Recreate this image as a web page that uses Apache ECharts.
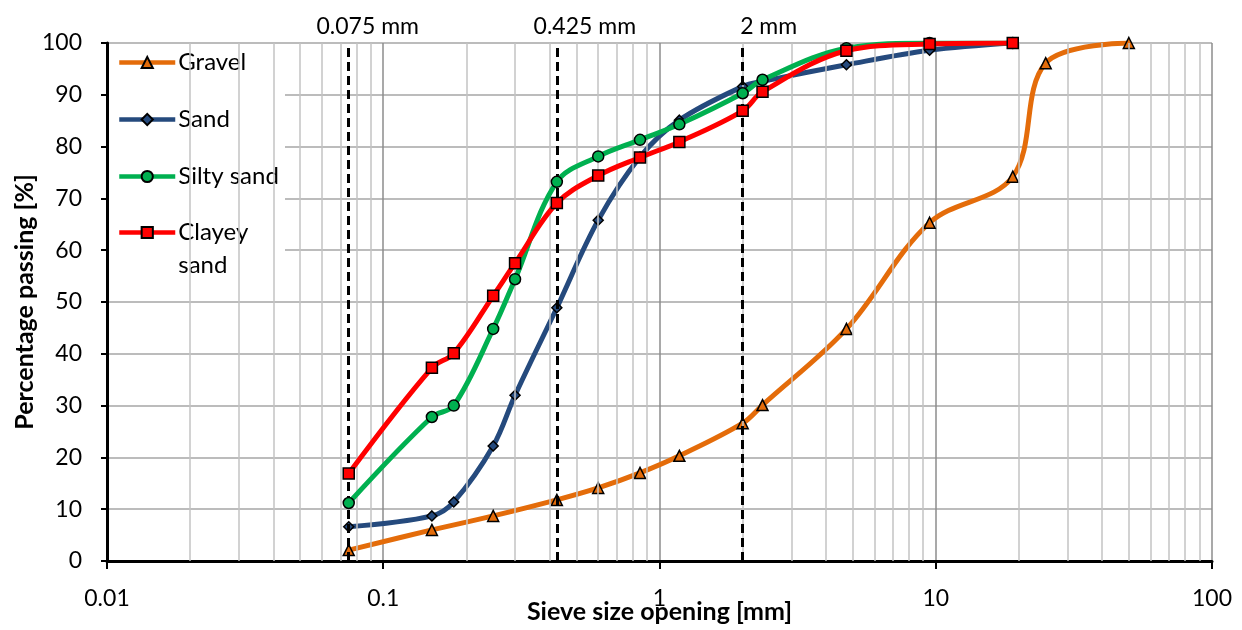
<!DOCTYPE html>
<html>
<head>
<meta charset="utf-8">
<script src="https://cdn.jsdelivr.net/npm/echarts@6/dist/echarts.min.js"></script>
<style>
html, body { margin: 0; padding: 0; background: #fff; }
#chart { width: 1242px; height: 630px; }
</style>
</head>
<body>
<div id="chart"></div>
<script>
// Sieve openings [mm] and percentage passing for each soil
const gravelSizes = [0.075, 0.15, 0.25, 0.425, 0.6, 0.85, 1.18, 2, 2.36, 4.75, 9.5, 19, 25, 50];
const gravelPassing = [2.1, 6.0, 8.7, 11.8, 14.1, 17.0, 20.3, 26.6, 30.1, 44.8, 65.3, 74.2, 96.1, 100];

const soilSizes = [0.075, 0.15, 0.18, 0.25, 0.3, 0.425, 0.6, 0.85, 1.18, 2, 2.36, 4.75, 9.5, 19];
const sandPassing = [6.6, 8.7, 11.4, 22.2, 32.0, 48.9, 65.8, 78.0, 85.1, 91.6, 92.6, 95.8, 98.6, 100];
const siltySandPassing = [11.2, 27.8, 30.0, 44.8, 54.4, 73.2, 78.1, 81.3, 84.3, 90.3, 92.9, 99.0, 100, 100];
const clayeySandPassing = [16.9, 37.3, 40.1, 51.2, 57.5, 69.1, 74.4, 77.9, 80.9, 86.9, 90.6, 98.5, 99.8, 100];

// Reference sieve limits drawn as dashed verticals
const limitSizes = [0.075, 0.425, 2];
const limitLabels = ['0.075 mm', '0.425 mm', '2 mm'];
const limitLabelShift = [19, 28, 26];

const seriesNames = ['Gravel', 'Sand', 'Silty sand', 'Clayey sand'];
const seriesColors = ['#E46C0A', '#254A7D', '#00B050', '#FF0000'];
const seriesSymbols = ['triangle', 'diamond', 'circle', 'rect'];

// Minor log grid lines (2..9 within each decade)
const minorGrid = [];
for (let d = 0.01; d < 100; d *= 10) {
  for (let k = 2; k <= 9; k++) minorGrid.push(+(d * k).toPrecision(3));
}

const FONT = 'Lato, "Open Sans", sans-serif';

function pairs(xs, ys) { return xs.map((x, i) => [x, ys[i]]); }

function soilSeries(idx, xs, ys) {
  return {
    name: seriesNames[idx],
    type: 'line',
    data: pairs(xs, ys),
    smooth: 0.35,
    symbol: seriesSymbols[idx],
    symbolSize: idx === 1 ? 10 : 11,
    showAllSymbol: true,
    lineStyle: { color: seriesColors[idx], width: 5 },
    itemStyle: { color: seriesColors[idx], borderColor: '#000', borderWidth: 1.5 },
    emphasis: { disabled: true },
    z: 3 + idx
  };
}

const legendText = { fontFamily: FONT, fontSize: 24, color: '#000', lineHeight: 33, padding: [0, 0, 0, -2] };

const chart = echarts.init(document.getElementById('chart'));
chart.setOption({
  animation: false,
  backgroundColor: '#fff',
  textStyle: { fontFamily: FONT },
  grid: { left: 107, right: 30, top: 43, bottom: 69, containLabel: false, outerBoundsMode: 'none' },
  xAxis: {
    type: 'log',
    logBase: 10,
    min: 0.01,
    max: 100,
    name: 'Sieve size opening [mm]',
    nameLocation: 'middle',
    nameGap: 38,
    nameMoveOverlap: false,
    nameTextStyle: { fontFamily: FONT, fontSize: 25, fontWeight: 'bold', color: '#000' },
    axisLine: { onZero: false, lineStyle: { color: '#000', width: 3 } },
    axisTick: { show: true, length: 8, lineStyle: { color: '#000', width: 2 } },
    axisLabel: {
      margin: 26, fontFamily: FONT, fontSize: 23, color: '#000',
      formatter: v => String(+v.toPrecision(6))
    },
    splitLine: { show: true, lineStyle: { color: '#8c8c8c', width: 1.5 } }
  },
  yAxis: {
    type: 'value',
    min: 0,
    max: 100,
    interval: 10,
    name: 'Percentage passing [%]',
    nameLocation: 'middle',
    nameGap: 70,
    nameMoveOverlap: false,
    nameTextStyle: { fontFamily: FONT, fontSize: 25, fontWeight: 'bold', color: '#000' },
    axisLine: { show: true, lineStyle: { color: '#000', width: 3 } },
    axisTick: { show: true, length: 6, lineStyle: { color: '#000', width: 2 } },
    axisLabel: { margin: 25, fontFamily: FONT, fontSize: 23, color: '#000' },
    splitLine: { show: true, lineStyle: { color: '#a6a6a6', width: 1.5 } }
  },
  legend: [
    {
      data: ['Gravel', 'Sand', 'Silty sand'],
      orient: 'vertical',
      left: 117,
      top: 46,
      padding: 0,
      itemGap: 24,
      itemWidth: 56,
      itemHeight: 14,
      selectedMode: false,
      lineStyle: { width: 4.5 },
      textStyle: legendText
    },
    {
      data: ['Clayey sand'],
      orient: 'vertical',
      left: 117,
      top: 183,
      padding: 0,
      itemWidth: 56,
      itemHeight: 14,
      selectedMode: false,
      lineStyle: { width: 4.5 },
      // blank first line keeps the marker level with "Clayey"
      formatter: () => ' \nClayey\nsand',
      textStyle: legendText
    }
  ],
  graphic: [
    {
      type: 'rect',
      z: 3,
      shape: { x: 109, y: 46, width: 176, height: 232 },
      style: { fill: '#fff' },
      silent: true
    }
  ],
  series: [
    {
      name: 'minor-grid',
      type: 'line',
      data: [],
      silent: true,
      z: 1,
      markLine: {
        silent: true,
        symbol: 'none',
        precision: 6,
        animation: false,
        label: { show: false },
        lineStyle: { color: '#c3c3c3', width: 1.5, type: 'solid' },
        data: minorGrid.map(v => ({ xAxis: v }))
      }
    },
    {
      name: 'limits',
      type: 'line',
      data: [],
      silent: true,
      z: 2,
      markLine: {
        silent: true,
        symbol: 'none',
        precision: 6,
        animation: false,
        lineStyle: { color: '#000', width: 3, type: [9, 5] },
        label: {
          show: true, position: 'end', distance: 5,
          fontFamily: FONT, fontSize: 23, color: '#000'
        },
        data: limitSizes.map((v, i) => ({
          xAxis: v,
          label: { formatter: limitLabels[i], offset: [limitLabelShift[i], 0] }
        }))
      }
    },
    soilSeries(0, gravelSizes, gravelPassing),
    soilSeries(1, soilSizes, sandPassing),
    soilSeries(2, soilSizes, siltySandPassing),
    soilSeries(3, soilSizes, clayeySandPassing)
  ]
});
</script>
</body>
</html>
